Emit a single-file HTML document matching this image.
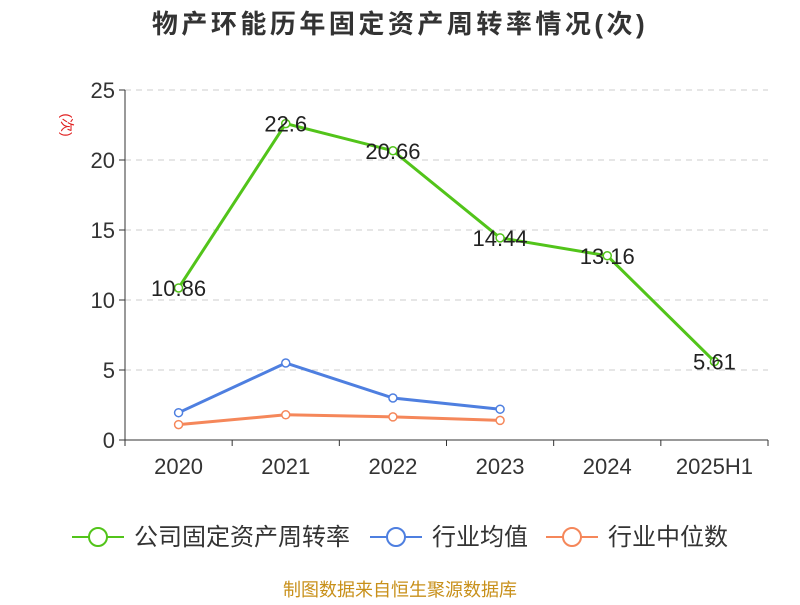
<!DOCTYPE html>
<html><head><meta charset="utf-8"><style>
body{margin:0;background:#fff;}
svg text{font-family:"Liberation Sans","Noto Sans CJK SC",sans-serif;}
</style></head><body>
<svg id="c" width="800" height="600">
<text x="400" y="33" text-anchor="middle" font-size="26" letter-spacing="3.5" font-weight="bold" fill="#333">物产环能历年固定资产周转率情况(次)</text>
<text x="62" y="125" font-size="14" fill="#e02020" transform="rotate(90 62 125)" text-anchor="middle">(次)</text>
<g id="grid"></g><g id="axes"></g><g id="series"></g>
<g>
<g><line x1="72" y1="537" x2="124" y2="537" stroke="#52c41a" stroke-width="2"/><circle cx="98" cy="537" r="9" fill="#fff" stroke="#52c41a" stroke-width="2"/><text x="134" y="545" font-size="24" fill="#333">公司固定资产周转率</text></g>
<g><line x1="370" y1="537" x2="422" y2="537" stroke="#4e7fe0" stroke-width="2"/><circle cx="396" cy="537" r="9" fill="#fff" stroke="#4e7fe0" stroke-width="2"/><text x="432" y="545" font-size="24" fill="#333">行业均值</text></g>
<g><line x1="546" y1="537" x2="598" y2="537" stroke="#f5875a" stroke-width="2"/><circle cx="572" cy="537" r="9" fill="#fff" stroke="#f5875a" stroke-width="2"/><text x="608" y="545" font-size="24" fill="#333">行业中位数</text></g>
</g>
<text x="400" y="596" text-anchor="middle" font-size="18" fill="#c8901a">制图数据来自恒生聚源数据库</text>
</svg>
<script>
const categories=["2020","2021","2022","2023","2024","2025H1"];
const companyValues=[10.86,22.6,20.66,14.44,13.16,5.61];
const avgValues=[1.95,5.5,3.0,2.2];
const medianValues=[1.1,1.8,1.65,1.4];
const yTicks=[0,5,10,15,20,25];
const NS="http://www.w3.org/2000/svg";
const x0=125,x1=768,yBase=440,yTop=90,yMax=25;
const bw=(x1-x0)/categories.length;
const X=i=>x0+bw*(i+0.5);
const Y=v=>yBase-(v/yMax)*(yBase-yTop);
function mk(tag,attrs,parent,txt){const e=document.createElementNS(NS,tag);for(const k in attrs)e.setAttribute(k,attrs[k]);if(txt!==undefined)e.textContent=txt;parent.appendChild(e);return e;}
const grid=document.getElementById('grid'),axes=document.getElementById('axes'),ser=document.getElementById('series');
yTicks.forEach(t=>{
 if(t>0){const l=mk('line',{x1:x0,x2:x1,y1:Y(t),y2:Y(t),stroke:'#ccc','stroke-dasharray':'6,5'},grid);
 
 }
 const tk=mk('line',{x1:x0-6,x2:x0,y1:Y(t),y2:Y(t),stroke:'#333'},axes);
 
 
 const tx=mk('text',{x:x0-10,y:Y(t)+8,'text-anchor':'end','font-size':22,fill:'#333'},axes,String(t));
 
 
});
const ya=mk('line',{x1:x0,x2:x0,y1:yTop,y2:yBase,stroke:'#333'},axes);


const xa=mk('line',{x1:x0,x2:x1,y1:yBase,y2:yBase,stroke:'#333'},axes);


for(let i=0;i<=categories.length;i++){const t=mk('line',{x1:x0+bw*i,x2:x0+bw*i,y1:yBase,y2:yBase+6,stroke:'#333'},axes);
 
 }
categories.forEach((c,i)=>{const t=mk('text',{x:X(i),y:yBase+34,'text-anchor':'middle','font-size':22,fill:'#333'},axes,c);
 
 });
function series(vals,color,name,labels){
 const g=mk('g',{},ser);
 
 
 const p=mk('polyline',{points:vals.map((v,i)=>X(i)+','+Y(v)).join(' '),fill:'none',stroke:color,'stroke-width':3},g);
 
 
 vals.forEach((v,i)=>{const c=mk('circle',{cx:X(i),cy:Y(v),r:4,fill:'#fff',stroke:color,'stroke-width':1.5},g);
  
  
  if(labels){const t=mk('text',{x:X(i),y:Y(v)+8,'text-anchor':'middle','font-size':22,fill:'#222'},g,String(v));
  
  }
 });
}
series(medianValues,'#f5875a','industry-median-series',false);
series(avgValues,'#4e7fe0','industry-avg-series',false);
series(companyValues,'#52c41a','company-series',true);
</script>
</body></html>
